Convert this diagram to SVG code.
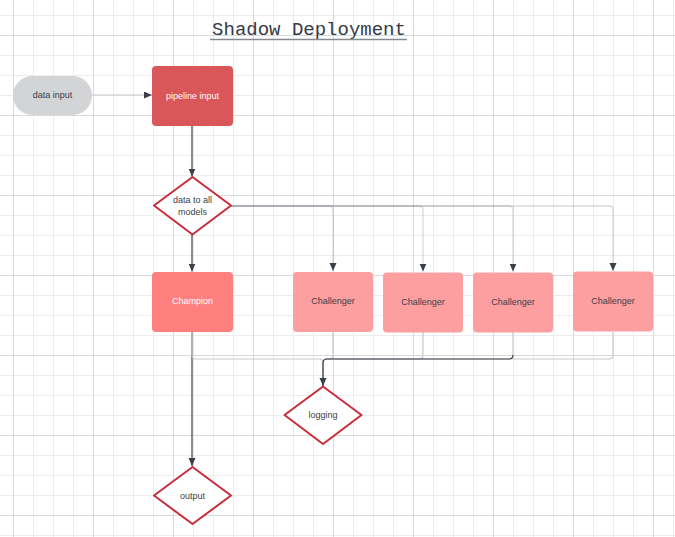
<svg xmlns="http://www.w3.org/2000/svg" width="675" height="537" viewBox="0 0 675 537">
  <style>
    .lbl { font-family: "Liberation Sans", Arial, sans-serif; font-size: 9px; text-anchor: middle; fill: #3a414a; }
    .lbl-w { fill: #ffffff; }
    .title { font-family: "Liberation Mono", "Courier New", monospace; font-size: 19px; text-anchor: middle; fill: #353b45; }
    .dia { fill: #ffffff; stroke: #c92d39; stroke-width: 2; stroke-linejoin: round; }
    .chal { fill: #fd9fa0; }
    .dark { fill: none; stroke: #3a414a; stroke-width: 1.2; }
    .light { fill: none; stroke: #c8c9cc; stroke-width: 1.2; }
    .fan { fill: none; stroke: #7f8590; stroke-opacity: 0.3; stroke-width: 1.3; }
  </style>
  <defs>
    <pattern id="grid" patternUnits="userSpaceOnUse" x="13" y="35" width="80" height="80">
      <rect x="20" y="0" width="1" height="80" fill="#ececec"/>
      <rect x="40" y="0" width="1" height="80" fill="#ececec"/>
      <rect x="60" y="0" width="1" height="80" fill="#ececec"/>
      <rect x="0" y="20" width="80" height="1" fill="#ececec"/>
      <rect x="0" y="40" width="80" height="1" fill="#ececec"/>
      <rect x="0" y="60" width="80" height="1" fill="#ececec"/>
      <rect x="0" y="0" width="1" height="80" fill="#d9d9d9"/>
      <rect x="0" y="0" width="80" height="1" fill="#d9d9d9"/>
    </pattern>
    <marker id="arr" markerUnits="userSpaceOnUse" markerWidth="9" markerHeight="8" refX="8" refY="3.5" orient="auto">
      <path d="M0,0 L8,3.5 L0,7 z" fill="#3a414a"/>
    </marker>
  </defs>

  <rect x="0" y="0" width="675" height="537" fill="#ffffff"/>
  <rect x="0" y="0" width="675" height="537" fill="url(#grid)"/>

  <g id="title">
    <text class="title" x="309" y="35">Shadow Deployment</text>
    <line x1="210" y1="39.5" x2="407" y2="39.5" stroke="#858a90" stroke-width="1.5"/>
  </g>

  <g id="connectors">
    <path class="light" d="M92 95 H152" marker-end="url(#arr)"/>
    <path class="dark" d="M192 126 V176.5" marker-end="url(#arr)"/>
    <path class="dark" d="M192 234.5 V271.5" marker-end="url(#arr)"/>
    <path class="fan" d="M231 206 H329 Q333 206 333 210 V271" marker-end="url(#arr)"/>
    <path class="fan" d="M231 206 H419 Q423 206 423 210 V271.5" marker-end="url(#arr)"/>
    <path class="fan" d="M231 206 H509 Q513 206 513 210 V271.5" marker-end="url(#arr)"/>
    <path class="fan" d="M231 206 H609 Q613 206 613 210 V271" marker-end="url(#arr)"/>
    <path class="dark" d="M192 332 V466" marker-end="url(#arr)"/>
    <path class="light" d="M192 332 V355 Q192 359 196 359 H319 Q323 359 323 363 V386"/>
    <path class="light" d="M333 332 V355 Q333 359 329 359 H327 Q323 359 323 363 V386"/>
    <path class="light" d="M423 332 V355 Q423 359 419 359 H327 Q323 359 323 363 V386"/>
    <path class="light" d="M613 332 V355 Q613 359 609 359 H327 Q323 359 323 363 V386"/>
    <path class="light" d="M513 332 V355"/>
    <path class="dark" d="M513 355 Q513 359 509 359 H327 Q323 359 323 363 V386" stroke="#4b5159" marker-end="url(#arr)"/>
  </g>

  <g id="data-input">
    <rect x="13" y="76" width="79" height="39" rx="19.5" fill="#d3d4d6"/>
    <text class="lbl" x="52.5" y="98">data input</text>
  </g>

  <g id="pipeline-input">
    <rect x="152" y="66" width="81" height="60" rx="4" fill="#d95659"/>
    <text class="lbl lbl-w" x="192.5" y="98.5">pipeline input</text>
  </g>

  <g id="data-to-all-models">
    <polygon class="dia" points="192.5,177 231,205.5 192.5,234.5 154,205.5"/>
    <text class="lbl" x="192.5" y="202.5">data to all</text>
    <text class="lbl" x="192.5" y="214.5">models</text>
  </g>

  <g id="champion">
    <rect x="152" y="272" width="81" height="60" rx="4" fill="#ff7f7f"/>
    <text class="lbl lbl-w" x="192.5" y="304">Champion</text>
  </g>

  <g id="challenger-1">
    <rect class="chal" x="293" y="272" width="80" height="60" rx="4"/>
    <text class="lbl" x="333" y="304">Challenger</text>
  </g>

  <g id="challenger-2">
    <rect class="chal" x="383" y="272.5" width="80" height="60" rx="4"/>
    <text class="lbl" x="423" y="305">Challenger</text>
  </g>

  <g id="challenger-3">
    <rect class="chal" x="473" y="272.5" width="80" height="60" rx="4"/>
    <text class="lbl" x="513" y="305">Challenger</text>
  </g>

  <g id="challenger-4">
    <rect class="chal" x="573" y="271.5" width="80" height="60" rx="4"/>
    <text class="lbl" x="613" y="304">Challenger</text>
  </g>

  <g id="logging">
    <polygon class="dia" points="323,386.5 361.5,415 323,444 284.5,415"/>
    <text class="lbl" x="323" y="418">logging</text>
  </g>

  <g id="output">
    <polygon class="dia" points="192.5,467 231,495.5 192.5,524 154,495.5"/>
    <text class="lbl" x="192.5" y="498.5">output</text>
  </g>
</svg>
